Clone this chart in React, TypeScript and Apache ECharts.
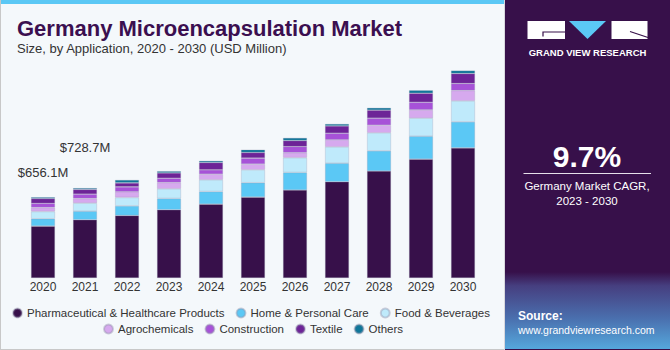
import React, { useEffect, useRef } from 'react';
import * as echarts from 'echarts';

const years = ['2020', '2021', '2022', '2023', '2024', '2025', '2026', '2027', '2028', '2029', '2030'];
const pharma = [421, 472, 507, 553, 599, 656, 713, 780, 867, 964, 1055];
const homeCare = [59, 70, 78, 92, 102, 116, 143, 151, 164, 186, 211];
const foodBev = [59, 65, 68, 78, 95, 105, 119, 132, 146, 146, 170];
const agro = [32, 38, 46, 51, 46, 46, 41, 57, 62, 67, 84];
const construction = [35, 35, 40, 35, 35, 49, 49, 54, 57, 62, 57];
const textile = [38, 38, 32, 43, 59, 45, 49, 59, 65, 73, 81];
const others = [11, 11, 24, 14, 14, 24, 22, 16, 19, 24, 24];
const seriesNames = [
  'Pharmaceutical & Healthcare Products',
  'Home & Personal Care',
  'Food & Beverages',
  'Agrochemicals',
  'Construction',
  'Textile',
  'Others',
];
const seriesColors = ['#37104a', '#5bc8f5', '#bfeafb', '#d6a9ee', '#a752d8', '#6d2397', '#0f7699'];
const totalLabels = ['$656.1M', '$728.7M'];
const labelDistances = [18, 34];
const cagrValue = '9.7%';
const cagrText = ['Germany Market CAGR,', '2023 - 2030'];

const FONT = '"Liberation Sans", Arial, sans-serif';

export default function App() {
  const ref = useRef<HTMLDivElement>(null);
  useEffect(() => {
    if (!ref.current) return;
    const chart = echarts.init(ref.current, null, { renderer: 'svg' });
    const allData = [pharma, homeCare, foodBev, agro, construction, textile, others];
    const series = allData.map((d, i) => ({
      name: seriesNames[i],
      type: 'bar',
      stack: 'total',
      barWidth: 24,
      itemStyle: { color: seriesColors[i], borderColor: 'rgba(150,150,175,0.45)', borderWidth: 0.6 },
      data:
        i === allData.length - 1
          ? d.map((v, j) =>
              j < totalLabels.length
                ? {
                    value: v,
                    label: {
                      show: true,
                      position: 'top',
                      distance: labelDistances[j],
                      formatter: totalLabels[j],
                      color: '#333',
                      fontSize: 13,
                      fontFamily: FONT,
                    },
                  }
                : v
            )
          : d,
    }));
    const legendCommon = {
      icon: 'circle',
      itemWidth: 9,
      itemHeight: 9,
      itemGap: 11,
      padding: 0,
      textStyle: { fontSize: 11.5, color: '#333', fontFamily: FONT },
      selectedMode: false,
    };
    chart.setOption({
      animation: false,
      backgroundColor: '#f4f8fb',
      grid: { left: 22, right: 186, top: 56, bottom: 72 },
      xAxis: {
        type: 'category',
        data: years,
        axisLine: { show: false },
        axisTick: { show: false },
        axisLabel: { color: '#333', fontSize: 12, margin: 3, fontFamily: FONT },
      },
      yAxis: { type: 'value', min: 0, max: 1800, show: false, splitLine: { show: false } },
      legend: [
        { ...legendCommon, data: seriesNames.slice(0, 3), left: 12, top: 307 },
        { ...legendCommon, data: seriesNames.slice(3), left: 103, top: 323 },
      ],
      series,
      graphic: [
        { type: 'rect', shape: { x: 0, y: 0, width: 505, height: 4 }, style: { fill: '#5bc8f5' } },
        { type: 'line', shape: { x1: 0.5, y1: 0, x2: 0.5, y2: 350 }, style: { stroke: '#c8c8c8', lineWidth: 1 } },
        { type: 'line', shape: { x1: 0, y1: 349.5, x2: 670, y2: 349.5 }, style: { stroke: '#c8c8c8', lineWidth: 1 } },
        { type: 'line', shape: { x1: 504.5, y1: 0, x2: 504.5, y2: 350 }, style: { stroke: '#d8d8de', lineWidth: 1 } },
        {
          type: 'text',
          x: 17,
          y: 28,
          style: { text: 'Germany Microencapsulation Market', fill: '#3b0f50', font: `bold 22px ${FONT}`, textVerticalAlign: 'middle' },
        },
        {
          type: 'text',
          x: 17,
          y: 48,
          style: { text: 'Size, by Application, 2020 - 2030 (USD Million)', fill: '#333', font: `13px ${FONT}`, textVerticalAlign: 'middle' },
        },
        { type: 'rect', shape: { x: 505, y: 0, width: 165, height: 350 }, style: { fill: '#37104a' } },
        {
          type: 'rect',
          shape: { x: 505, y: 272, width: 165, height: 77 },
          style: {
            fill: new echarts.graphic.LinearGradient(0, 0, 0, 1, [
              { offset: 0, color: '#37104a' },
              { offset: 0.18, color: '#463f80' },
              { offset: 0.6, color: '#4a6fae' },
              { offset: 1, color: '#55a8dc' },
            ]),
          },
        },
        { type: 'rect', shape: { x: 527.5, y: 21, width: 37.5, height: 18 }, style: { fill: '#ffffff' } },
        { type: 'polyline', shape: { points: [[565, 32], [543, 32], [543, 36.5]] }, style: { stroke: '#37104a', lineWidth: 1.2, fill: 'none' } },
        { type: 'polygon', shape: { points: [[569, 21], [606, 21], [587.5, 39]] }, style: { fill: '#5bc8f5' } },
        { type: 'rect', shape: { x: 611.5, y: 21, width: 36, height: 18 }, style: { fill: '#ffffff' } },
        { type: 'line', shape: { x1: 630, y1: 31.5, x2: 648, y2: 37.5 }, style: { stroke: '#37104a', lineWidth: 1.2 } },
        {
          type: 'text',
          x: 587.5,
          y: 52,
          style: { text: 'GRAND VIEW RESEARCH', fill: '#ffffff', font: `bold 9.5px ${FONT}`, textAlign: 'center', textVerticalAlign: 'middle' },
        },
        {
          type: 'text',
          x: 587,
          y: 156,
          style: { text: cagrValue, fill: '#ffffff', font: `bold 30px ${FONT}`, textAlign: 'center', textVerticalAlign: 'middle' },
        },
        { type: 'line', shape: { x1: 523.5, y1: 173.5, x2: 651, y2: 173.5 }, style: { stroke: '#e6e0ea', lineWidth: 1.2 } },
        {
          type: 'text',
          x: 587,
          y: 186,
          style: { text: cagrText[0], fill: '#ffffff', font: `11.5px ${FONT}`, textAlign: 'center', textVerticalAlign: 'middle' },
        },
        {
          type: 'text',
          x: 587,
          y: 201,
          style: { text: cagrText[1], fill: '#ffffff', font: `11.5px ${FONT}`, textAlign: 'center', textVerticalAlign: 'middle' },
        },
        {
          type: 'text',
          x: 518,
          y: 316,
          style: { text: 'Source:', fill: '#ffffff', font: `bold 12px ${FONT}`, textVerticalAlign: 'middle' },
        },
        {
          type: 'text',
          x: 518,
          y: 330,
          style: { text: 'www.grandviewresearch.com', fill: '#ffffff', font: `10.5px ${FONT}`, textVerticalAlign: 'middle' },
        },
      ],
    });
    return () => chart.dispose();
  }, []);
  return <div ref={ref} style={{ position: 'fixed', left: 0, top: 0, width: 670, height: 350 }} />;
}
